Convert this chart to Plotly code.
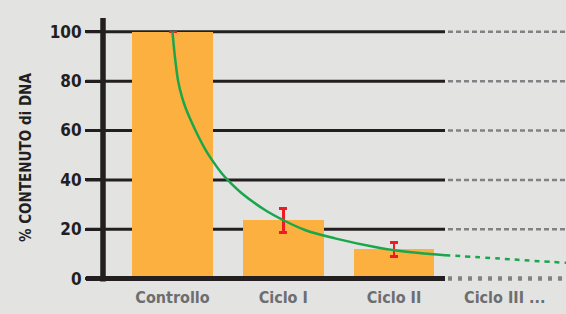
import plotly.graph_objects as go

# ---- data ----
categories = ["Controllo", "Ciclo I", "Ciclo II", "Ciclo III ..."]
bar_pos = [0, 1, 2]
bar_values = [100, 23.6, 11.8]
err_values = [0, 4.9, 2.9]

curve_x_solid = [0.0, 0.02, 0.05, 0.086, 0.122, 0.163, 0.233, 0.293, 0.359, 0.444,
                 0.504, 0.625, 0.835, 1.0, 1.196, 1.467, 1.874, 1.99, 2.23, 2.46]
curve_y_solid = [100, 90.7, 80.3, 73.5, 68.7, 64.4, 57.7, 52.6, 47.9, 42.7,
                 39.7, 34.6, 27.8, 23.7, 19.7, 16.3, 12.4, 11.6, 10.4, 9.5]
curve_x_dash = [2.46, 2.957, 3.12, 3.553]
curve_y_dash = [9.5, 8.1, 7.6, 6.4]

y_ticks = [0, 20, 40, 60, 80, 100]

FONT = "DejaVu Sans Condensed"
BLACK = "#231f20"
GRAY = "#808285"
BG = "#e3e3e2"

fig = go.Figure()

fig.add_trace(go.Bar(
    x=bar_pos, y=bar_values, width=0.73,
    marker=dict(color="#fbb040", line=dict(width=0)),
    error_y=dict(type="data", array=err_values, color="#ed1c24",
                 thickness=2.5, width=4, visible=True),
    showlegend=False, hoverinfo="skip",
))

fig.add_trace(go.Scatter(
    x=curve_x_solid, y=curve_y_solid, mode="lines",
    line=dict(color="#1aa64b", width=2.5, shape="spline", smoothing=1.0),
    showlegend=False, hoverinfo="skip",
))
fig.add_trace(go.Scatter(
    x=curve_x_dash, y=curve_y_dash, mode="lines",
    line=dict(color="#1aa64b", width=2.5, shape="spline", dash="5px,5px"),
    showlegend=False, hoverinfo="skip",
))

W, H = 566, 314
L, R, T, B = 103, 0, 18, 28
pw = W - L - R
solid_end = (445 - L) / pw
dash_start = (448 - L) / pw
stub = -17 / pw
Y_TOP = 105.6

shapes = []
for v in y_ticks:
    if v == 0:
        shapes.append(dict(type="line", xref="paper", yref="y", x0=stub, x1=solid_end,
                           y0=v, y1=v, line=dict(color=BLACK, width=5), layer="above"))
        shapes.append(dict(type="line", xref="paper", yref="y", x0=dash_start, x1=1,
                           y0=v, y1=v, line=dict(color=GRAY, width=4.5, dash="4px,6px"),
                           layer="above"))
    else:
        shapes.append(dict(type="line", xref="paper", yref="y", x0=stub, x1=solid_end,
                           y0=v, y1=v, line=dict(color=BLACK, width=3), layer="below"))
        shapes.append(dict(type="line", xref="paper", yref="y", x0=dash_start, x1=1,
                           y0=v, y1=v, line=dict(color=GRAY, width=2.5, dash="5px,3px"),
                           layer="below"))
# vertical axis line
shapes.append(dict(type="line", xref="paper", yref="y", x0=0, x1=0,
                   y0=-1.2, y1=Y_TOP, line=dict(color=BLACK, width=5.5), layer="above"))

fig.update_layout(
    width=W, height=H,
    margin=dict(l=L, r=R, t=T, b=B, autoexpand=False),
    paper_bgcolor=BG, plot_bgcolor=BG,
    shapes=shapes,
    bargap=0,
    xaxis=dict(range=[-0.6275, 3.553], tickvals=[0, 1, 2, 3], ticktext=categories,
               showgrid=False, zeroline=False, showline=False, ticks="",
               tickfont=dict(family=FONT, size=16, color="#6d6e70", weight="bold"),
               fixedrange=True),
    yaxis=dict(range=[-3, Y_TOP], tickvals=y_ticks, showgrid=False, zeroline=False,
               showline=False, ticks="outside", ticklen=17, tickwidth=3, tickcolor=BLACK,
               tickfont=dict(family=FONT, size=17, color=BLACK, weight="bold"),
               fixedrange=True),
    annotations=[dict(text="% CONTENUTO di DNA", textangle=-90, xref="paper", yref="paper",
                      x=(26 - L) / pw, y=(286 - 158) / 268, xanchor="center", yanchor="middle",
                      showarrow=False,
                      font=dict(family=FONT, size=15, color=BLACK, weight="bold"))],
)

fig.write_html("out.html", config={"displayModeBar": False},
               post_script="document.body.style.margin='0';document.body.style.background='%s';" % BG)
